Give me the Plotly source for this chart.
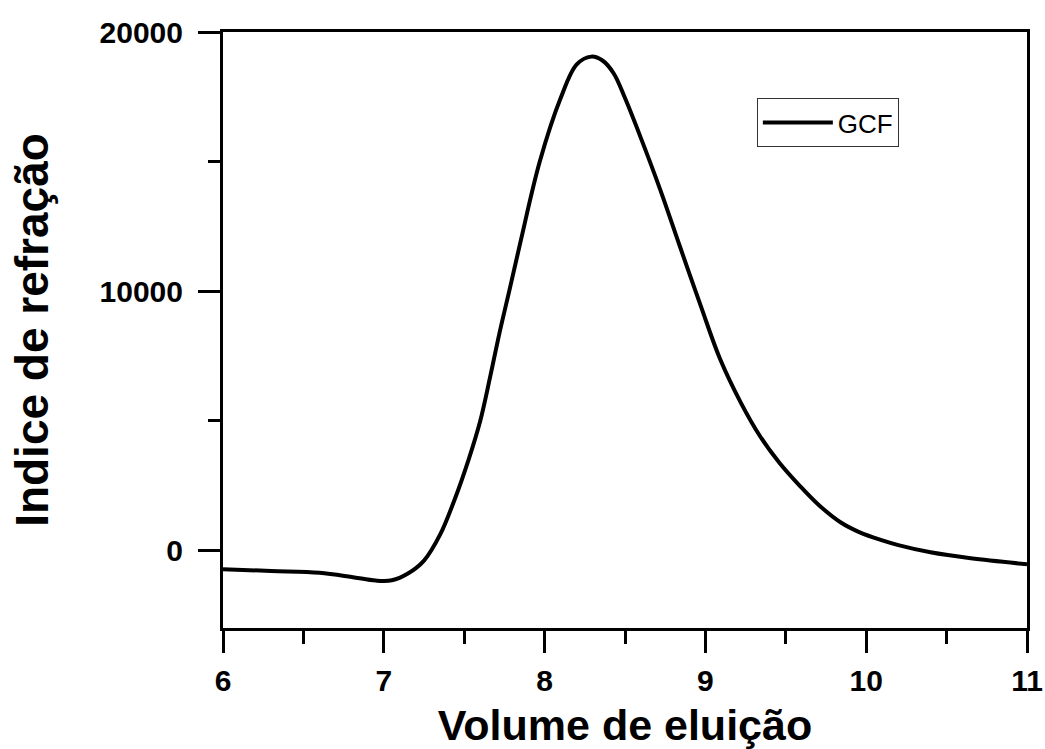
import plotly.graph_objects as go

# Data
volume = [6.0, 6.3, 6.6, 6.8, 6.95, 7.05, 7.15, 7.25, 7.35, 7.44, 7.53, 7.6, 7.66,
          7.72, 7.78, 7.85, 7.97, 8.1, 8.2, 8.29, 8.36, 8.43, 8.5, 8.59, 8.72, 8.84,
          8.97, 9.09, 9.22, 9.34, 9.46, 9.59, 9.71, 9.84, 9.96, 10.09, 10.2, 10.4,
          10.65, 11.0]
indice = [-730, -800, -870, -1030, -1170, -1160, -900, -400, 600, 1950, 3550,
          5000, 6650, 8400, 10000, 11900, 15000, 17450, 18750, 19050, 18900,
          18400, 17450, 16050, 13900, 11750, 9450, 7400, 5700, 4400, 3380, 2470,
          1720, 1080, 690, 400, 200, -80, -310, -540]

series_name = "GCF"
x_ticks = [6, 7, 8, 9, 10, 11]
y_ticks = [0, 10000, 20000]

FONT = "Liberation Sans, Arial, sans-serif"

fig = go.Figure()
fig.add_trace(go.Scatter(
    x=volume, y=indice, mode="lines", name=series_name,
    line=dict(color="black", width=4, shape="spline", smoothing=1.0),
))

fig.update_layout(
    width=1045, height=749,
    margin=dict(l=223, r=18, t=32, b=121),
    paper_bgcolor="white", plot_bgcolor="white",
    showlegend=True,
    legend=dict(
        x=0.664, y=0.889, xanchor="left", yanchor="top",
        bgcolor="white", bordercolor="#333333", borderwidth=1,
        font=dict(family=FONT, size=26, color="black"),
        itemwidth=70,
    ),
    xaxis=dict(
        range=[6, 11], tickvals=x_ticks, ticktext=[str(v) for v in x_ticks],
        showline=True, linecolor="black", linewidth=3, mirror=True,
        ticks="outside", ticklen=22, tickwidth=3, tickcolor="black",
        minor=dict(dtick=0.5, tick0=6, ticks="outside", ticklen=13, tickwidth=3, tickcolor="black"),
        showgrid=False, zeroline=False, automargin=False,
        tickfont=dict(family=FONT, size=30, color="black", weight="bold"),
        ticklabelstandoff=2,
        title=dict(text="<b>Volume de eluição</b>",
                   font=dict(family=FONT, size=43, color="black"),
                   standoff=15),
    ),
    yaxis=dict(
        range=[-3000, 20000], tickvals=y_ticks, ticktext=[str(v) for v in y_ticks],
        showline=True, linecolor="black", linewidth=3, mirror=True,
        ticks="outside", ticklen=22, tickwidth=3, tickcolor="black",
        minor=dict(dtick=5000, tick0=0, ticks="outside", ticklen=12, tickwidth=3, tickcolor="black"),
        showgrid=False, zeroline=False, automargin=False,
        tickfont=dict(family=FONT, size=30, color="black", weight="bold"),
        ticklabelstandoff=9,
        title=dict(text="<b>Indice de refração</b>",
                   font=dict(family=FONT, size=46, color="black"),
                   standoff=37),
    ),
)

fig.write_html("out.html")
